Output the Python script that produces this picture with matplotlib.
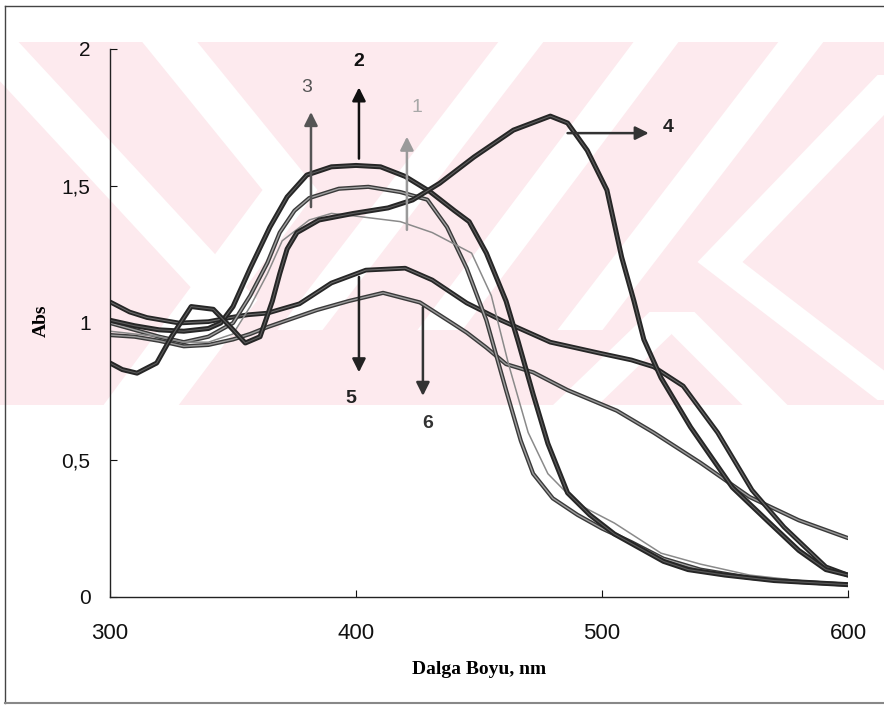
import matplotlib
matplotlib.use("Agg")
import matplotlib.pyplot as plt
from matplotlib.patches import Polygon, Rectangle

# ---------------- data ----------------
wl_1 = [300, 310, 320, 330, 340, 350, 357, 364, 370, 381, 390, 400, 418, 431, 447,
        455, 462, 470, 478, 490, 505, 524, 540, 560, 580, 600]
abs_1 = [0.97, 0.96, 0.95, 0.93, 0.93, 0.96, 1.06, 1.18, 1.30, 1.376, 1.40, 1.39, 1.37,
         1.33, 1.255, 1.10, 0.85, 0.60, 0.45, 0.34, 0.27, 0.16, 0.12, 0.08, 0.06, 0.05]

wl_2 = [300, 310, 320, 330, 340, 345, 350, 357, 365, 372, 380, 390, 400, 410, 420, 430,
        440, 446, 453, 461, 466, 472, 478, 486, 495, 505, 513, 525, 535, 550, 570, 600]
abs_2 = [1.01, 0.99, 0.975, 0.97, 0.98, 1.0, 1.06, 1.20, 1.35, 1.46, 1.54, 1.57, 1.575,
         1.57, 1.535, 1.48, 1.41, 1.37, 1.255, 1.08, 0.93, 0.74, 0.56, 0.38, 0.30, 0.23,
         0.19, 0.13, 0.10, 0.08, 0.06, 0.045]

wl_3 = [300, 310, 320, 330, 340, 350, 357, 364, 369, 375, 381, 393, 405, 418, 429, 437,
        445, 453, 461, 467, 472, 480, 490, 500, 512, 525, 540, 560, 580, 600]
abs_3 = [1.0, 0.975, 0.95, 0.93, 0.95, 1.0, 1.10, 1.22, 1.33, 1.41, 1.456, 1.49, 1.497,
         1.478, 1.45, 1.35, 1.20, 1.01, 0.755, 0.57, 0.45, 0.36, 0.30, 0.25, 0.20, 0.14,
         0.10, 0.07, 0.055, 0.045]

wl_4 = [300, 305, 311, 319, 325, 333, 342, 349, 355, 361, 366, 369, 372, 376, 385, 399,
        413, 423, 434, 448, 464, 479, 486, 494, 502, 508, 513, 517, 524, 536, 553, 567,
        580, 591, 600]
abs_4 = [0.854, 0.83, 0.817, 0.854, 0.95, 1.06, 1.05, 0.985, 0.927, 0.95, 1.08, 1.18,
         1.27, 1.33, 1.376, 1.40, 1.42, 1.449, 1.51, 1.606, 1.704, 1.755, 1.73, 1.63,
         1.485, 1.24, 1.08, 0.94, 0.80, 0.62, 0.40, 0.28, 0.17, 0.10, 0.08]

wl_5 = [300, 308, 315, 328, 340, 349, 356, 364, 377, 390, 404, 420, 431, 445, 459, 479,
        499, 512, 521, 533, 547, 561, 574, 591, 600]
abs_5 = [1.077, 1.04, 1.02, 1.0, 1.005, 1.02, 1.03, 1.036, 1.07, 1.146, 1.193, 1.20,
         1.157, 1.073, 1.01, 0.93, 0.89, 0.865, 0.84, 0.77, 0.60, 0.39, 0.255, 0.11, 0.08]

wl_6 = [300, 310, 320, 330, 340, 350, 357, 364, 384, 397, 411, 426, 439, 445, 453, 461,
        472, 486, 506, 521, 540, 560, 580, 600]
abs_6 = [0.956, 0.95, 0.935, 0.915, 0.92, 0.94, 0.96, 0.985, 1.047, 1.08, 1.11, 1.075,
         1.0, 0.965, 0.91, 0.85, 0.82, 0.755, 0.68, 0.60, 0.49, 0.365, 0.28, 0.215]

x_ticks = [300, 400, 500, 600]
x_tick_labels = ["300", "400", "500", "600"]
y_ticks = [0, 0.5, 1, 1.5, 2]
y_tick_labels = ["0", "0,5", "1", "1,5", "2"]

curve_labels = ["1", "2", "3", "4", "5", "6"]
label_pos = [(424.8, 1.785), (401, 1.953), (380, 1.858), (527, 1.715), (398, 0.723), (429, 0.635)]
arrow_tail = [(420.7, 1.34), (401.2, 1.60), (381.7, 1.423), (486, 1.693), (401.2, 1.168), (427.2, 1.058)]
arrow_head = [(420.7, 1.68), (401.2, 1.86), (381.7, 1.77), (519, 1.693), (401.2, 0.82), (427.2, 0.734)]

# ---------------- figure ----------------
W, H = 884, 705
fig = plt.figure(figsize=(W / 100, H / 100), dpi=100)

# background watermark + frame (figure pixel coordinates)
bg = fig.add_axes([0, 0, 1, 1], zorder=0)
bg.set_xlim(0, W)
bg.set_ylim(H, 0)
bg.axis("off")
band = Rectangle((0, 42), W, 363, facecolor="#fdeaee", edgecolor="none", zorder=0)
bg.add_patch(band)


def stripe(x0, y0, x1, y1, w):
    return [(x0 - w / 2, y0), (x0 + w / 2, y0), (x1 + w / 2, y1), (x1 - w / 2, y1)]


stripes = [
    stripe(-20, 30, 230, 300, 55),
    stripe(160, 30, 290, 190, 55),
    stripe(290, 190, 120, 420, 55),
    stripe(230, 300, 140, 420, 55),
    stripe(530, 30, 300, 330, 45),
    stripe(665, 30, 440, 330, 45),
    stripe(810, 30, 580, 330, 45),
    stripe(720, 262, 900, 75, 45),
    stripe(720, 262, 900, 400, 45),
    stripe(672, 312, 560, 420, 45),
    stripe(672, 312, 780, 420, 45),
]
for s in stripes:
    p = Polygon(s, closed=True, facecolor="white", edgecolor="none", zorder=1)
    p.set_clip_path(band)
    bg.add_patch(p)

frame_kw = dict(color="#444444", lw=1.0, zorder=2)
bg.plot([5, 5], [6, 703], **frame_kw)
bg.plot([5, W], [6, 6], **frame_kw)
bg.plot([5, W], [703, 703], color="#888888", lw=1.5, zorder=2)

# main axes
ax = fig.add_axes([110 / W, 1 - 597 / H, 738 / W, 548 / H], zorder=2)
ax.patch.set_alpha(0)

dark = "#262626"
kw = dict(solid_joinstyle="round", solid_capstyle="round")
ax.plot(wl_6, abs_6, color="#3a3a3a", lw=3.0, **kw)
ax.plot(wl_6, abs_6, color="#9a9a9a", lw=1.0, **kw)
ax.plot(wl_5, abs_5, color=dark, lw=3.4, **kw)
ax.plot(wl_5, abs_5, color="#6a6a6a", lw=0.8, **kw)
ax.plot(wl_3, abs_3, color="#3a3a3a", lw=3.0, **kw)
ax.plot(wl_3, abs_3, color="#a0a0a0", lw=1.0, **kw)
ax.plot(wl_1, abs_1, color="#8a8a8a", lw=1.1, **kw)
ax.plot(wl_2, abs_2, color=dark, lw=3.6, **kw)
ax.plot(wl_2, abs_2, color="#5c5c5c", lw=0.8, **kw)
ax.plot(wl_4, abs_4, color=dark, lw=3.6, **kw)
ax.plot(wl_4, abs_4, color="#5c5c5c", lw=0.8, **kw)

ax.set_xlim(300, 600)
ax.set_ylim(0, 2)
ax.set_xticks(x_ticks)
ax.set_xticklabels(x_tick_labels)
ax.set_yticks(y_ticks)
ax.set_yticklabels(y_tick_labels)
for sp in ["top", "right"]:
    ax.spines[sp].set_visible(False)
for sp in ["left", "bottom"]:
    ax.spines[sp].set_color("#222222")
    ax.spines[sp].set_linewidth(1.0)
ax.tick_params(axis="x", direction="in", length=5, pad=19, labelsize=16, colors="#111111")
ax.tick_params(axis="y", direction="in", length=5, pad=14, labelsize=15, colors="#111111")
for lab in ax.get_xticklabels() + ax.get_yticklabels():
    lab.set_family("Liberation Sans")

ax.set_xlabel("Dalga Boyu, nm", family="Liberation Serif", fontweight="bold", fontsize=14)
ax.xaxis.set_label_coords(0.5, -0.117)
ax.set_ylabel("Abs", family="Liberation Serif", fontweight="bold", fontsize=14)
ax.yaxis.set_label_coords(-0.081, 0.504)

# arrows and curve numbers
arrow_colors = ["#9a9a9a", "#111111", "#555555", "#333333", "#222222", "#333333"]
text_colors = ["#a8a8a8", "#111111", "#555555", "#222222", "#222222", "#333333"]
text_weights = ["light", "bold", "normal", "bold", "bold", "bold"]
for i in range(6):
    ax.annotate("", xy=arrow_head[i], xytext=arrow_tail[i],
                arrowprops=dict(arrowstyle="-|>", color=arrow_colors[i], lw=1.8,
                                mutation_scale=20, shrinkA=0, shrinkB=0))
    ax.text(label_pos[i][0], label_pos[i][1], curve_labels[i], ha="center", va="center",
            fontsize=14, color=text_colors[i], fontweight=text_weights[i], family="Liberation Sans")

fig.savefig("out.png", dpi=100)
